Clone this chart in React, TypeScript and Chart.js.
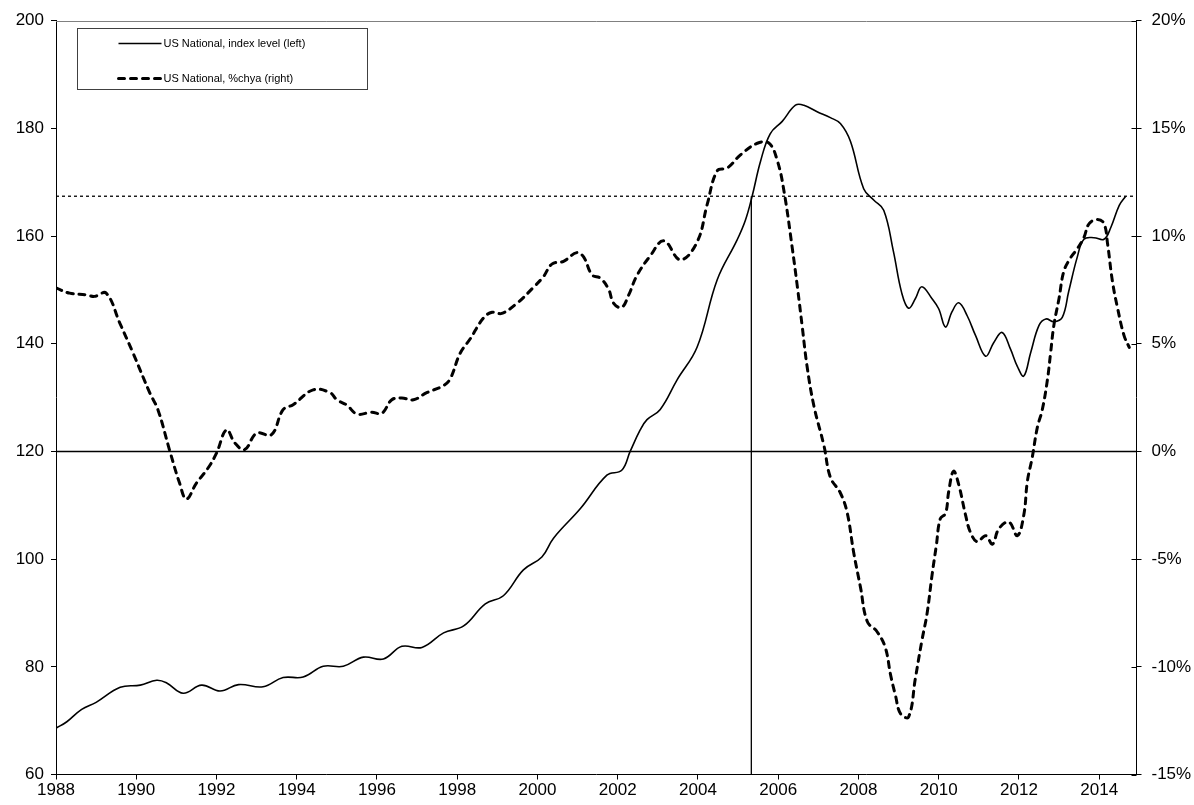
import React, { useEffect, useRef } from "react";
import { Chart, registerables } from "chart.js";

Chart.register(...registerables);

// ---- Data ----
const indexYears = [
  1988.0, 1988.27, 1988.64, 1989.0, 1989.6, 1990.1, 1990.51, 1990.76, 1991.17, 1991.63,
  1992.09, 1992.55, 1993.16, 1993.66, 1994.16, 1994.66, 1995.16, 1995.66, 1996.16, 1996.62,
  1997.12, 1997.66, 1998.16, 1998.7, 1999.15, 1999.65, 2000.11, 2000.4, 2001.07, 2001.73,
  2002.1, 2002.31, 2002.56, 2002.73, 2003.06, 2003.48, 2003.98, 2004.48, 2004.97, 2005.18,
  2005.35, 2005.56, 2005.8, 2006.1, 2006.43, 2006.64, 2006.97, 2007.3, 2007.55, 2007.8,
  2008.13, 2008.38, 2008.63, 2008.87, 2009.08, 2009.25, 2009.42, 2009.58, 2009.83, 2010.0,
  2010.17, 2010.33, 2010.5, 2010.71, 2010.92, 2011.17, 2011.37, 2011.58, 2011.79, 2011.96,
  2012.12, 2012.29, 2012.5, 2012.67, 2012.87, 2013.08, 2013.24, 2013.45, 2013.62, 2013.87,
  2014.12, 2014.29, 2014.5, 2014.66,
];
const indexValues = [
  68.6, 69.8, 72.1, 73.4, 76.2, 76.6, 77.5, 77.0, 75.1, 76.6,
  75.5, 76.7, 76.3, 78.0, 78.1, 80.1, 80.1, 81.8, 81.45, 83.8,
  83.6, 86.3, 87.6, 91.7, 93.2, 98.0, 100.4, 103.9, 109.4, 115.6,
  116.5, 120.0, 124.0, 125.9, 127.8, 133.3, 139.4, 151.9, 159.2, 162.9,
  167.4, 173.9, 179.0, 181.3, 184.3, 184.3, 183.1, 182.0, 180.9, 177.6,
  168.8, 166.7, 164.8, 157.2, 149.4, 146.6, 148.4, 150.6, 148.4, 146.5,
  143.1, 145.9, 147.6, 145.2, 141.5, 137.7, 140.2, 142.1, 139.0, 135.8,
  134.0, 138.3, 143.4, 144.6, 144.1, 144.9, 149.7, 156.0, 159.4, 159.7,
  159.4, 161.6, 165.7, 167.4,
];

const chyaYears = [
  1988.0, 1988.34, 1988.76, 1988.96, 1989.25, 1989.59, 1989.92, 1990.34, 1990.54, 1990.84,
  1991.08, 1991.25, 1991.5, 1991.79, 1992.0, 1992.25, 1992.46, 1992.7, 1993.0, 1993.37,
  1993.66, 1993.91, 1994.41, 1994.83, 1995.0, 1995.25, 1995.5, 1995.87, 1996.12, 1996.37,
  1996.62, 1996.91, 1997.24, 1997.66, 1997.83, 1998.07, 1998.32, 1998.66, 1998.87, 1999.11,
  1999.49, 1999.9, 2000.15, 2000.36, 2000.65, 2000.98, 2001.15, 2001.36, 2001.57, 2001.77,
  2001.9, 2002.1, 2002.27, 2002.48, 2002.81, 2003.15, 2003.56, 2003.98, 2004.23, 2004.48,
  2004.73, 2005.06, 2005.48, 2005.77, 2005.98, 2006.15, 2006.35, 2006.48, 2006.6, 2006.72,
  2006.89, 2007.14, 2007.3, 2007.55, 2007.72, 2007.88, 2008.05, 2008.22, 2008.46, 2008.67,
  2008.8, 2008.92, 2009.05, 2009.25, 2009.42, 2009.58, 2009.71, 2009.83, 2009.94, 2010.04,
  2010.17, 2010.25, 2010.37, 2010.5, 2010.67, 2010.79, 2010.96, 2011.17, 2011.34, 2011.5,
  2011.75, 2011.96, 2012.12, 2012.21, 2012.33, 2012.46, 2012.58, 2012.71, 2012.79, 2012.87,
  2013.0, 2013.12, 2013.29, 2013.45, 2013.62, 2013.75, 2013.96, 2014.12, 2014.21, 2014.33,
  2014.46, 2014.62, 2014.75,
];
const chyaValues = [
  7.59, 7.35, 7.27, 7.2, 7.35, 5.96, 4.57, 2.71, 1.94, 0.0,
  -1.47, -2.21, -1.47, -0.77, -0.08, 1.0, 0.39, 0.08, 0.85, 0.78,
  1.94, 2.17, 2.86, 2.73, 2.4, 2.15, 1.74, 1.82, 1.77, 2.4,
  2.48, 2.4, 2.73, 3.06, 3.39, 4.55, 5.22, 6.21, 6.46, 6.41,
  6.88, 7.62, 8.12, 8.7, 8.83, 9.23, 9.03, 8.2, 8.04, 7.54,
  6.88, 6.69, 7.25, 8.17, 9.08, 9.78, 8.9, 9.73, 11.47, 13.03,
  13.16, 13.77, 14.31, 14.31, 13.49, 12.02, 9.45, 7.61, 5.78, 3.94,
  2.11, 0.27, -1.2, -1.93, -2.85, -4.68, -6.3, -7.9, -8.36, -9.11,
  -10.37, -11.31, -12.18, -12.33, -10.52, -8.79, -7.53, -5.8, -4.38, -3.12,
  -2.88, -1.86, -0.92, -1.55, -2.96, -3.75, -4.19, -3.91, -4.3, -3.59,
  -3.28, -3.91, -2.96, -1.39, -0.29, 1.13, 1.92, 3.33, 4.59, 5.85,
  7.11, 8.37, 9.0, 9.4, 9.94, 10.58, 10.77, 10.58, 9.63, 7.9,
  6.64, 5.38, 4.83,
];

const xTickYears = [1988, 1990, 1992, 1994, 1996, 1998, 2000, 2002, 2004, 2006, 2008, 2010, 2012, 2014];
const leftTicks = [60, 80, 100, 120, 140, 160, 180, 200];
const rightTicks = [-15, -10, -5, 0, 5, 10, 15, 20];
const X_MIN = 1988;
const X_MAX = 2014.93;
const latestLevel = 167.4; // current index level (dotted reference)
const sameLevelDate = 2005.33; // when the index first reached that level
const legendLabels = ["US National, index level (left)", "US National, %chya (right)"];

const FONT = "'Liberation Sans', Arial, Helvetica, sans-serif";

const frameLegendPlugin = {
  id: "frameLegend",
  afterDraw(chart: any) {
    const { ctx, chartArea: ca } = chart;
    ctx.save();
    // top border of plot area
    ctx.strokeStyle = "#808080";
    ctx.lineWidth = 1;
    ctx.beginPath();
    ctx.moveTo(ca.left, Math.round(ca.top) + 0.5);
    ctx.lineTo(ca.right, Math.round(ca.top) + 0.5);
    ctx.stroke();

    // right-axis tick marks also cross to the inside
    const y2 = chart.scales.y2;
    ctx.strokeStyle = "#000";
    ctx.beginPath();
    rightTicks.forEach((v) => {
      const py = Math.round(y2.getPixelForValue(v)) + 0.5;
      ctx.moveTo(ca.right - 5, py);
      ctx.lineTo(ca.right, py);
    });
    ctx.stroke();

    // legend box
    const lx = Math.round(ca.left + 21) + 0.5;
    const ly = Math.round(ca.top + 7.6) + 0.5;
    const lw = 290;
    const lh = 61;
    ctx.fillStyle = "#ffffff";
    ctx.fillRect(lx, ly, lw, lh);
    ctx.strokeStyle = "#404040";
    ctx.lineWidth = 1;
    ctx.strokeRect(lx, ly, lw, lh);

    const rows = [
      { y: ly + 15, width: 1.5, dash: [] as number[], cap: "butt" },
      { y: ly + 50, width: 3, dash: [6, 6], cap: "round" },
    ];
    rows.forEach((r, i) => {
      ctx.save();
      ctx.strokeStyle = "#000";
      ctx.lineWidth = r.width;
      ctx.setLineDash(r.dash);
      ctx.lineCap = r.cap;
      ctx.beginPath();
      ctx.moveTo(lx + 41, r.y);
      ctx.lineTo(lx + 84, r.y);
      ctx.stroke();
      ctx.restore();
      ctx.fillStyle = "#000";
      ctx.font = `11px ${FONT}`;
      ctx.textBaseline = "middle";
      ctx.textAlign = "left";
      ctx.fillText(legendLabels[i], lx + 86, r.y);
    });
    ctx.restore();
  },
};

export default function App() {
  const canvasRef = useRef<HTMLCanvasElement | null>(null);

  useEffect(() => {
    if (!canvasRef.current) return;
    const indexData = indexYears.map((x, i) => ({ x, y: indexValues[i] }));
    const chyaData = chyaYears.map((x, i) => ({ x, y: chyaValues[i] }));

    const tickFont = { family: FONT, size: 17 };

    const chart = new Chart(canvasRef.current, {
      type: "line",
      data: {
        datasets: [
          {
            label: legendLabels[0],
            data: indexData,
            yAxisID: "y",
            borderColor: "#000",
            borderWidth: 1.6,
            pointRadius: 0,
            tension: 0.4,
            fill: false,
          },
          {
            label: legendLabels[1],
            data: chyaData,
            yAxisID: "y2",
            borderColor: "#000",
            borderWidth: 3,
            borderDash: [6, 6],
            borderCapStyle: "round",
            pointRadius: 0,
            tension: 0.4,
            fill: false,
          },
          {
            label: "zero",
            data: [
              { x: X_MIN, y: 0 },
              { x: X_MAX, y: 0 },
            ],
            yAxisID: "y2",
            borderColor: "#000",
            borderWidth: 1.6,
            pointRadius: 0,
          },
          {
            label: "latest level",
            data: [
              { x: X_MIN, y: latestLevel },
              { x: X_MAX, y: latestLevel },
            ],
            yAxisID: "y",
            borderColor: "#000",
            borderWidth: 1.3,
            borderDash: [3, 3],
            pointRadius: 0,
          },
          {
            label: "same level date",
            data: [
              { x: sameLevelDate, y: 60 },
              { x: sameLevelDate, y: latestLevel },
            ],
            yAxisID: "y",
            borderColor: "#000",
            borderWidth: 1.3,
            pointRadius: 0,
          },
        ],
      },
      options: {
        animation: false,
        responsive: false,
        maintainAspectRatio: false,
        layout: { padding: { top: 20.7, left: 0, right: 0, bottom: 0 } },
        plugins: {
          legend: { display: false },
          tooltip: { enabled: false },
        },
        scales: {
          x: {
            type: "linear",
            min: X_MIN,
            max: X_MAX,
            afterBuildTicks: (s: any) => {
              s.ticks = xTickYears.map((v) => ({ value: v }));
            },
            afterFit: (s: any) => {
              s.height = 30.5;
            },
            ticks: {
              color: "#000",
              font: tickFont,
              padding: 1,
              maxRotation: 0,
              autoSkip: false,
              callback: (v: any) => String(v),
            },
            grid: { drawOnChartArea: false, tickLength: 5, color: "#000", tickColor: "#000" },
            border: { color: "#000", width: 1 },
          },
          y: {
            type: "linear",
            position: "left",
            min: 60,
            max: 200,
            afterBuildTicks: (s: any) => {
              s.ticks = leftTicks.map((v) => ({ value: v }));
            },
            afterFit: (s: any) => {
              s.width = 56;
            },
            ticks: {
              color: "#000",
              font: tickFont,
              padding: 7,
              callback: (v: any) => String(v),
            },
            grid: { drawOnChartArea: false, tickLength: 5, color: "#000", tickColor: "#000" },
            border: { color: "#000", width: 1 },
          },
          y2: {
            type: "linear",
            position: "right",
            min: -15,
            max: 20,
            afterBuildTicks: (s: any) => {
              s.ticks = rightTicks.map((v) => ({ value: v }));
            },
            afterFit: (s: any) => {
              s.width = 57.5;
            },
            ticks: {
              color: "#000",
              font: tickFont,
              padding: 10,
              callback: (v: any) => `${v}%`,
            },
            grid: { drawOnChartArea: false, tickLength: 5, color: "#000", tickColor: "#000" },
            border: { color: "#000", width: 1 },
          },
        },
      },
      plugins: [frameLegendPlugin],
    } as any);

    return () => chart.destroy();
  }, []);

  return (
    <div style={{ position: "absolute", left: 0, top: 0, width: 1194, height: 805, background: "#fff" }}>
      <canvas ref={canvasRef} width={1194} height={805} style={{ width: 1194, height: 805, display: "block" }} />
    </div>
  );
}
